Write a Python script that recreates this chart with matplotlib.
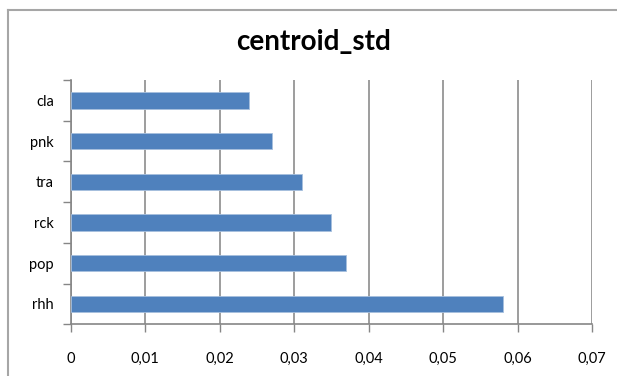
import matplotlib.pyplot as plt
from matplotlib.lines import Line2D
from matplotlib.ticker import FuncFormatter, FixedLocator

# genre codes and their centroid standard deviation
genres = ['cla', 'pnk', 'tra', 'rck', 'pop', 'rhh']
centroid_std = [0.024, 0.027, 0.031, 0.035, 0.037, 0.058]
x_ticks = [0, 0.01, 0.02, 0.03, 0.04, 0.05, 0.06, 0.07]

plt.rcParams['font.family'] = ['Lato', 'DejaVu Sans']

fig = plt.figure(figsize=(6.17, 3.76), dpi=100)
ax = fig.add_axes([0.1146, 0.1375, 0.8449, 0.6495])

pos = list(range(len(genres)))
ax.barh(pos, centroid_std, height=0.4, color='#4F81BD',
        edgecolor='#A7C0DE', linewidth=0.6, zorder=3)

ax.set_ylim(len(genres) - 0.5, -0.5)
ax.set_xlim(0, 0.07)

# labels in the middle of each band, tick marks on the band edges
ax.set_yticks(pos)
ax.set_yticklabels(genres, fontsize=10.5)
ax.yaxis.set_minor_locator(FixedLocator([p - 0.5 for p in range(len(genres) + 1)]))
ax.tick_params(axis='y', which='major', length=0, pad=12)
ax.tick_params(axis='y', which='minor', length=6, width=1, color='#868686')

ax.set_xticks(x_ticks)
ax.xaxis.set_major_formatter(FuncFormatter(
    lambda v, _: '0' if v == 0 else f'{v:.2f}'.replace('.', ',')))
ax.tick_params(axis='x', length=6, width=1, color='#868686', labelsize=10.5, pad=14)

ax.grid(axis='x', color='#8C8C8C', linewidth=1.2, zorder=0)
for side in ('top', 'right'):
    ax.spines[side].set_visible(False)
for side in ('left', 'bottom'):
    ax.spines[side].set_color('#868686')
    ax.spines[side].set_linewidth(1.2)

fig.text(0.508, 0.888, 'centroid_std', ha='center', va='center',
         fontsize=20, fontweight='bold')

# chart frame (top and left edges)
W, H = 617, 376
fig.add_artist(Line2D([8 / W, 1], [1 - 10 / H, 1 - 10 / H], color='#A6A6A6', linewidth=1.5))
fig.add_artist(Line2D([8 / W, 8 / W], [0, 1 - 10 / H], color='#A6A6A6', linewidth=1.5))

fig.savefig('out.png', dpi=100, facecolor='white')
